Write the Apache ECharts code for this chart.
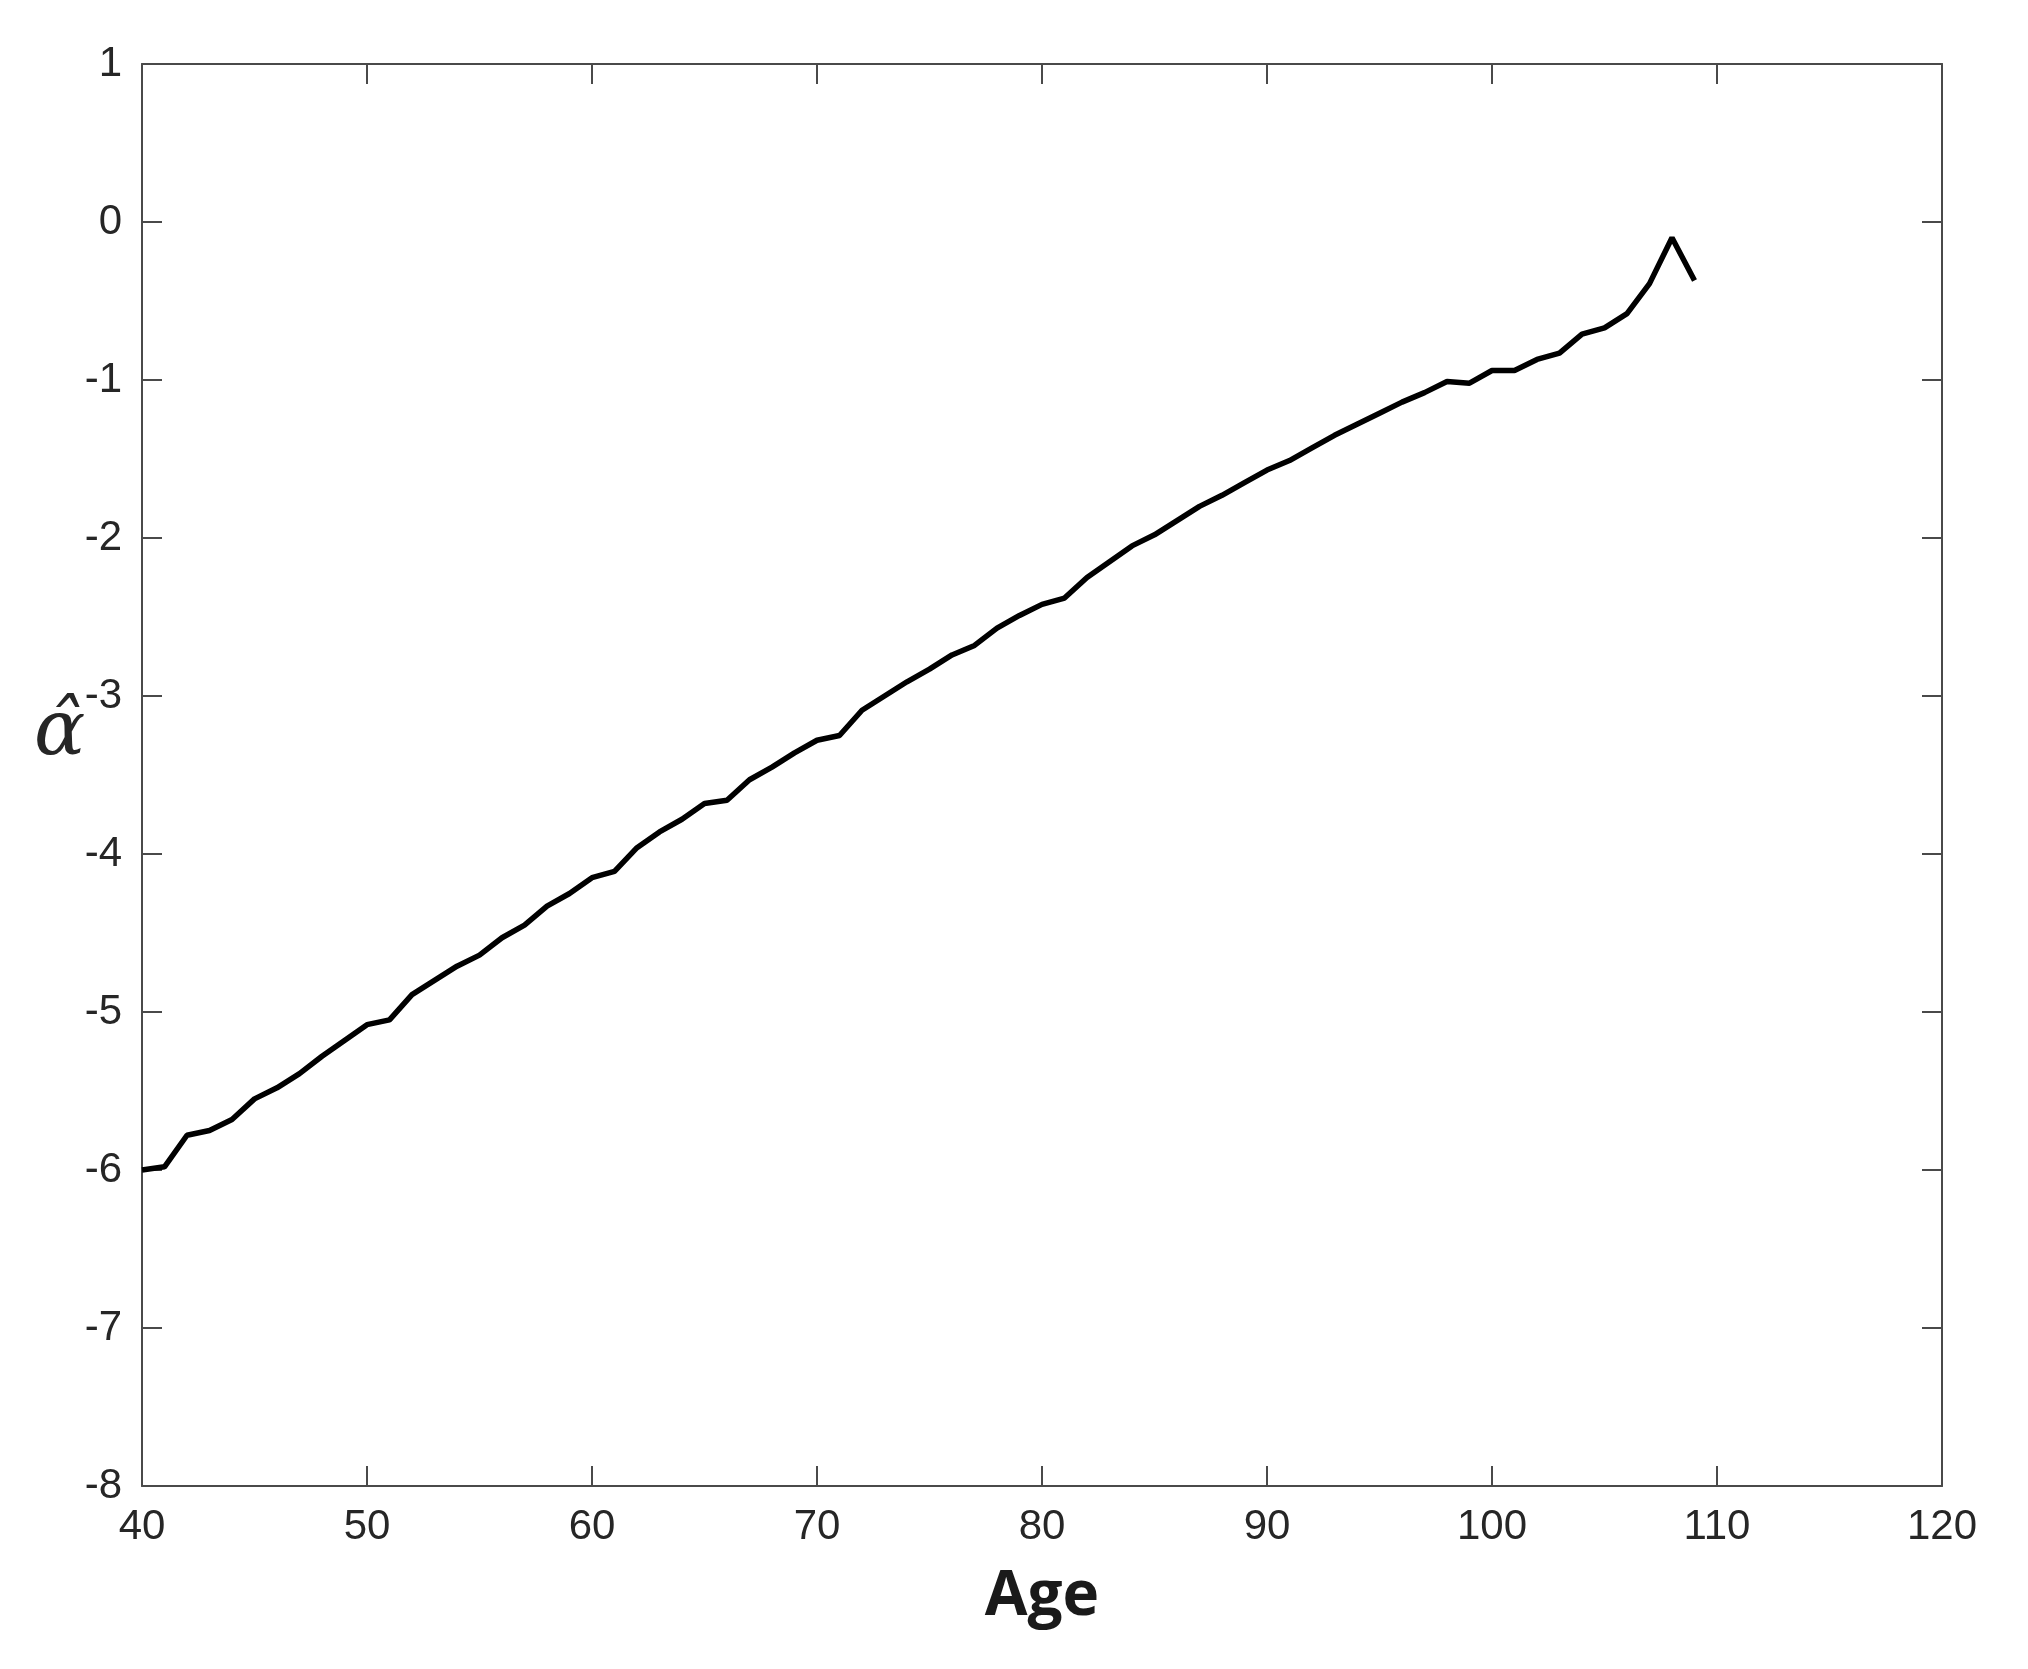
<!DOCTYPE html>
<html>
<head>
<meta charset="utf-8">
<script src="https://cdn.jsdelivr.net/npm/echarts@6/dist/echarts.min.js"></script>
<style>
  html, body { margin: 0; padding: 0; background: #fff; }
  #main { width: 2028px; height: 1669px; }
</style>
</head>
<body>
<div id="main"></div>
<script>
// ages on the x axis
var ages = [40, 41, 42, 43, 44, 45, 46, 47, 48, 49,
  50, 51, 52, 53, 54, 55, 56, 57, 58, 59,
  60, 61, 62, 63, 64, 65, 66, 67, 68, 69,
  70, 71, 72, 73, 74, 75, 76, 77, 78, 79,
  80, 81, 82, 83, 84, 85, 86, 87, 88, 89,
  90, 91, 92, 93, 94, 95, 96, 97, 98, 99,
  100, 101, 102, 103, 104, 105, 106, 107, 108, 109]

// estimated alpha-hat for each age
var alphaHat = [-6.00, -5.98, -5.78, -5.75, -5.68, -5.55, -5.48, -5.39, -5.28, -5.18,
  -5.08, -5.05, -4.89, -4.80, -4.71, -4.64, -4.53, -4.45, -4.33, -4.25,
  -4.15, -4.11, -3.96, -3.86, -3.78, -3.68, -3.66, -3.53, -3.45, -3.36,
  -3.28, -3.25, -3.09, -3.00, -2.91, -2.83, -2.74, -2.68, -2.57, -2.49,
  -2.42, -2.38, -2.25, -2.15, -2.05, -1.98, -1.89, -1.80, -1.73, -1.65,
  -1.57, -1.51, -1.43, -1.35, -1.28, -1.21, -1.14, -1.08, -1.01, -1.02,
  -0.94, -0.94, -0.87, -0.83, -0.71, -0.67, -0.58, -0.39, -0.10, -0.37]

var xMin = 40, xMax = 120, xStep = 10
var yMin = -8, yMax = 1, yStep = 1

var points = ages.map(function (a, i) { return [a, alphaHat[i]] })

var frameColor = '#4a4a4a'
var labelFont = { fontSize: 42, color: '#262626', fontFamily: 'Liberation Sans' }

// axis with inward ticks, matlab box style
function boxAxis (extra) {
  return Object.assign({
    type: 'value',
    axisLine: { show: true, onZero: false, lineStyle: { color: frameColor, width: 2 } },
    axisTick: { show: true, inside: true, length: 20, lineStyle: { color: frameColor, width: 2 } },
    splitLine: { show: false }
  }, extra)
}

var chart = echarts.init(document.getElementById('main'))
chart.setOption({
  backgroundColor: '#fff',
  animation: false,
  grid: { left: 142, right: 86, top: 64, bottom: 183 },
  xAxis: [
    boxAxis({
      min: xMin, max: xMax, interval: xStep, position: 'bottom',
      axisLabel: Object.assign({ margin: 20 }, labelFont),
      name: 'Age', nameLocation: 'middle', nameGap: 80,
      nameTextStyle: { fontSize: 62, fontWeight: 'bold', color: '#1a1a1a', fontFamily: 'Open Sans' }
    }),
    boxAxis({ min: xMin, max: xMax, interval: xStep, position: 'top', axisLabel: { show: false } })
  ],
  yAxis: [
    boxAxis({
      min: yMin, max: yMax, interval: yStep, position: 'left',
      axisLabel: Object.assign({ margin: 20 }, labelFont)
    }),
    boxAxis({ min: yMin, max: yMax, interval: yStep, position: 'right', axisLabel: { show: false } })
  ],
  graphic: [{
    type: 'text',
    left: 34,
    top: 696,
    style: { text: 'α̂', font: 'italic 76px "DejaVu Serif"', fill: '#262626' }
  }],
  series: [{
    type: 'line',
    data: points,
    showSymbol: false,
    lineStyle: { color: '#000', width: 5.5 },
    itemStyle: { color: '#000' }
  }]
})
</script>
</body>
</html>
